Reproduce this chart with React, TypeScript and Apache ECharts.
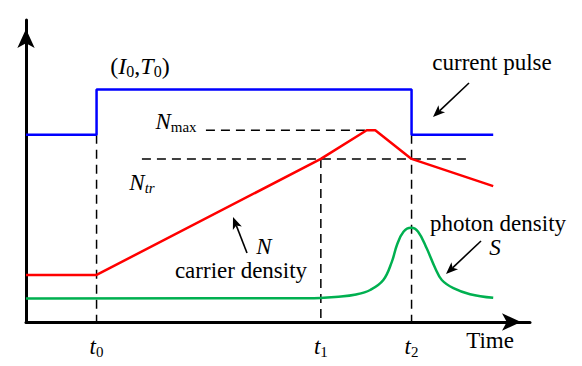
import React, { useEffect, useRef } from "react";
import * as echarts from "echarts";

// ---- data (arbitrary units: time 0..100, level 0..100) ----
const eventTimes = [14, 58.5, 76.5]; // t0, t1, t2
const eventSubs = ["0", "1", "2"];
const endTime = 92.7;
const pulseLow = 62;
const pulseHigh = 77;
const nTr = 54;
const nMax = 63.5;
const carrierTimes = [0, 14, 58.5, 67.6, 69.3, 76.5, 92.7];
const carrierValues = [15.6, 15.6, 54, 63.5, 63.5, 54, 45];
const photonTimes = [0, 56, 62, 65.5, 68.3, 70.9, 72.6, 73.6, 74.9, 76.4, 77.8, 79.5, 81.2, 82.5, 84.8, 88.1, 92.7];
const photonValues = [7.8, 7.9, 8.4, 9.1, 10.6, 13.9, 20.0, 25.5, 29.9, 31.2, 29.9, 24.4, 17.8, 13.9, 11.2, 9.2, 8.0];
const nMaxStart = 35.7;
const nTrStart = 23;
const nTrEnd = 88.1;

const FONT = "Liberation Serif";

function arrowElems(x1: number, y1: number, x2: number, y2: number) {
  const dx = x2 - x1;
  const dy = y2 - y1;
  const L = Math.hypot(dx, dy);
  const ux = dx / L;
  const uy = dy / L;
  const hl = 12;
  const hw = 4.8;
  const bx = x2 - ux * hl;
  const by = y2 - uy * hl;
  return [
    {
      type: "line",
      shape: { x1, y1, x2: bx + ux * 3, y2: by + uy * 3 },
      style: { stroke: "#000", lineWidth: 1.6 },
    },
    {
      type: "polygon",
      shape: {
        points: [
          [x2, y2],
          [bx - uy * hw, by + ux * hw],
          [bx + ux * 3, by + uy * 3],
          [bx + uy * hw, by - ux * hw],
        ],
      },
      style: { fill: "#000" },
    },
  ];
}

const richBase = {
  i: { fontStyle: "italic", fontSize: 23, fontFamily: FONT, color: "#000", lineHeight: 20 },
  n: { fontSize: 23, fontFamily: FONT, color: "#000", lineHeight: 20 },
  I: { fontStyle: "italic", fontSize: 24, fontFamily: FONT, color: "#000", lineHeight: 22 },
  N: { fontSize: 24, fontFamily: FONT, color: "#000", lineHeight: 22 },
  s: { fontSize: 15, fontFamily: FONT, color: "#000", padding: [11, 0, 0, 0] },
  S: { fontSize: 16, fontFamily: FONT, color: "#000", padding: [11, 0, 0, 0] },
  si: { fontStyle: "italic", fontSize: 15, fontFamily: FONT, color: "#000", padding: [11, 0, 0, 0] },
};

function textEl(x: number, y: number, text: string) {
  return {
    type: "text",
    x,
    y,
    style: {
      text,
      fill: "#000",
      align: "center",
      verticalAlign: "middle",
      rich: richBase,
    },
  };
}

export default function App() {
  const ref = useRef<HTMLDivElement>(null);
  useEffect(() => {
    document.body.style.margin = "0";
    if (!ref.current) return;
    const chart = echarts.init(ref.current, undefined, { renderer: "svg" });

    const dashed = { color: "#000", width: 1.5, type: [9, 6] as any };
    const dashSeries = (data: number[][]) => ({
      type: "line",
      data,
      symbol: "none",
      silent: true,
      lineStyle: dashed,
      z: 1,
    });

    const pulseData = [
      [0, pulseLow],
      [eventTimes[0], pulseLow],
      [eventTimes[0], pulseHigh],
      [eventTimes[2], pulseHigh],
      [eventTimes[2], pulseLow],
      [endTime, pulseLow],
    ];

    chart.setOption({
      animation: false,
      grid: { left: 26, right: 52, top: 20, bottom: 44 },
      xAxis: {
        type: "value",
        min: 0,
        max: 100,
        splitLine: { show: false },
        axisTick: { show: false },
        axisLine: {
          show: true,
          symbol: ["none", "arrow"],
          symbolSize: [13, 19],
          symbolOffset: [0, -9],
          lineStyle: { color: "#000", width: 3 },
        },
        axisLabel: {
          customValues: eventTimes,
          margin: 11,
          formatter: (v: number) => {
            const k = eventTimes.indexOf(v);
            return k >= 0 ? `{i|t}{s|${eventSubs[k]}}` : "";
          },
          rich: {
            i: { fontStyle: "italic", fontSize: 23, fontFamily: FONT, color: "#000" },
            s: { fontSize: 15, fontFamily: FONT, color: "#000", padding: [11, 0, 0, 0] },
          },
        },
      },
      yAxis: {
        type: "value",
        min: 0,
        max: 100,
        splitLine: { show: false },
        axisTick: { show: false },
        axisLabel: { show: false },
        axisLine: {
          show: true,
          symbol: ["none", "arrow"],
          symbolSize: [13, 19],
          symbolOffset: [0, -9],
          lineStyle: { color: "#000", width: 3 },
        },
      },
      series: [
        dashSeries([[eventTimes[0], pulseLow], [eventTimes[0], 0]]),
        dashSeries([[eventTimes[1], nTr], [eventTimes[1], 0]]),
        dashSeries([[eventTimes[2], pulseLow], [eventTimes[2], 0]]),
        dashSeries([[nMaxStart, nMax], [carrierTimes[3], nMax]]),
        dashSeries([[nTrStart, nTr], [nTrEnd, nTr]]),
        {
          type: "line",
          data: pulseData,
          symbol: "none",
          lineStyle: { color: "#0000ff", width: 2.5 },
          z: 3,
        },
        {
          type: "line",
          data: carrierTimes.map((t, i) => [t, carrierValues[i]]),
          symbol: "none",
          lineStyle: { color: "#ff0000", width: 2.5 },
          z: 3,
        },
        {
          type: "line",
          data: photonTimes.map((t, i) => [t, photonValues[i]]),
          symbol: "none",
          smooth: 0.4,
          lineStyle: { color: "#00b050", width: 2.5 },
          z: 3,
        },
      ],
      graphic: [
        textEl(140, 66, "{N|(}{I|I}{S|0}{N|,}{I|T}{S|0}{N|)}"),
        textEl(176, 121, "{i|N}{s|max}"),
        textEl(142, 182, "{i|N}{si|tr}"),
        textEl(492, 62, "{n|current pulse}"),
        textEl(241, 270, "{n|carrier density}"),
        textEl(264, 246, "{i|N}"),
        textEl(498, 223, "{n|photon density}"),
        textEl(495, 247, "{i|S}"),
        textEl(490, 340, "{n|Time}"),
        ...arrowElems(469, 83, 433, 117),
        ...arrowElems(247, 253, 233, 217),
        ...arrowElems(481, 241, 446, 274),
      ],
    });
    return () => chart.dispose();
  }, []);
  return <div ref={ref} style={{ width: 582, height: 366 }} />;
}
